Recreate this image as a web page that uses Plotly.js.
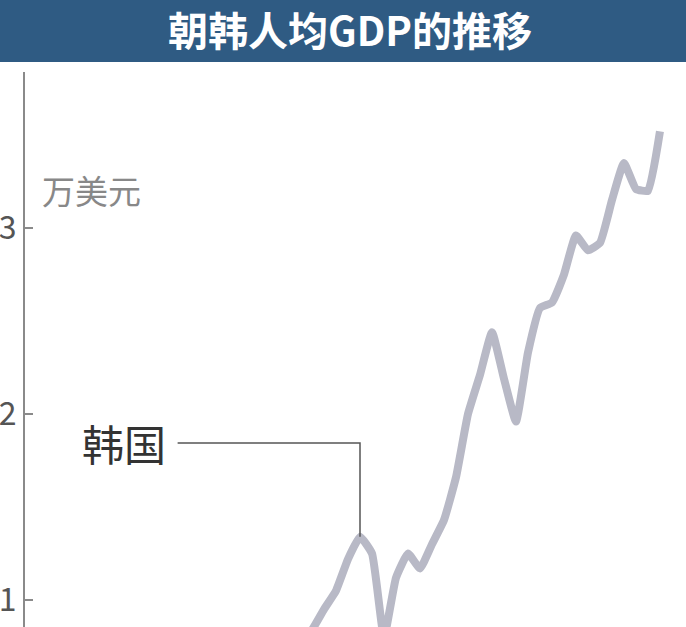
<!DOCTYPE html>
<html>
<head>
<meta charset="utf-8">
<script src="https://cdn.plot.ly/plotly-3.0.1.min.js"></script>
<style>
  html, body { margin: 0; padding: 0; background: #fff; }
  #chart { width: 686px; height: 627px; }
</style>
</head>
<body>
<div id="chart"></div>
<script>
// 韩国人均GDP（万美元）
var years = [1990, 1991, 1992, 1993, 1994, 1995, 1996, 1997, 1998, 1999,
             2000, 2001, 2002, 2003, 2004, 2005, 2006, 2007, 2008, 2009,
             2010, 2011, 2012, 2013, 2014, 2015, 2016, 2017, 2018, 2019,
             2020, 2021];
var korea = [0.70, 0.78, 0.84, 0.95, 1.05, 1.22, 1.34, 1.25, 0.80, 1.12,
             1.25, 1.17, 1.30, 1.43, 1.66, 2.00, 2.21, 2.44, 2.19, 1.96,
             2.33, 2.57, 2.60, 2.75, 2.96, 2.88, 2.92, 3.15, 3.35, 3.21,
             3.20, 3.52];
var tickVals = [1, 2, 3];
var tickText = ['1', '2', '3'];
var titleText = '朝韩人均GDP的推移';
var unitText = '万美元';
var seriesName = '韩国';

var W = 686, H = 627;
var mL = 25, mT = 72;
var plotH = H - mT;

// leader line goes from the 1996 peak up and left to the label
var peakIdx = years.indexOf(1996);
var elbowY = 1.844, elbowX = 1980.8;

var trace = {
  x: years, y: korea, type: 'scatter', mode: 'lines',
  line: {color: '#b8b9c6', width: 8, shape: 'spline', smoothing: 0.4},
  hoverinfo: 'skip'
};

var layout = {
  width: W, height: H,
  margin: {l: mL, r: 0, t: mT, b: 0},
  paper_bgcolor: '#fff', plot_bgcolor: '#fff',
  showlegend: false,
  title: {
    text: '<b>' + titleText + '</b>',
    font: {family: 'Noto Sans CJK SC', size: 40, color: '#fff'},
    xref: 'container', x: 350 / W, xanchor: 'center',
    yref: 'container', y: 1 - 32 / H, yanchor: 'middle'
  },
  xaxis: {
    range: [1968.08, 2023.17], showgrid: false, zeroline: false,
    showline: false, showticklabels: false, ticks: ''
  },
  yaxis: {
    range: [0.855, 3.839], showgrid: false, zeroline: false,
    showline: true, linecolor: '#8a8a8a', linewidth: 2,
    ticks: 'inside', ticklen: 8, tickcolor: '#8a8a8a', tickwidth: 2,
    tickvals: tickVals, ticktext: tickText,
    tickfont: {family: 'Noto Sans CJK SC', size: 32, color: '#555'}
  },
  shapes: [
    {type: 'rect', xref: 'paper', yref: 'paper',
     x0: -mL / (W - mL), x1: 1, y0: 1 + 10 / plotH, y1: 1 + mT / plotH,
     fillcolor: '#2f5b83', line: {width: 0}, layer: 'above'},
    {type: 'path', xref: 'x', yref: 'y',
     path: 'M ' + years[peakIdx] + ' ' + korea[peakIdx] +
           ' L ' + years[peakIdx] + ' ' + elbowY +
           ' L ' + elbowX + ' ' + elbowY,
     line: {color: '#555', width: 1.5}}
  ],
  annotations: [
    {text: unitText, xref: 'paper', yref: 'paper', x: 15 / (W - mL), y: (H - 190) / plotH,
     xanchor: 'left', yanchor: 'middle', showarrow: false,
     font: {family: 'Noto Sans CJK SC', size: 33, color: '#888'}},
    {text: seriesName, xref: 'paper', yref: 'paper', x: (168 - mL) / (W - mL), y: (H - 442) / plotH,
     xanchor: 'right', yanchor: 'middle', showarrow: false,
     font: {family: 'Noto Sans CJK SC', size: 42, color: '#333'}}
  ]
};

Plotly.newPlot('chart', [trace], layout, {staticPlot: true});
</script>
</body>
</html>
